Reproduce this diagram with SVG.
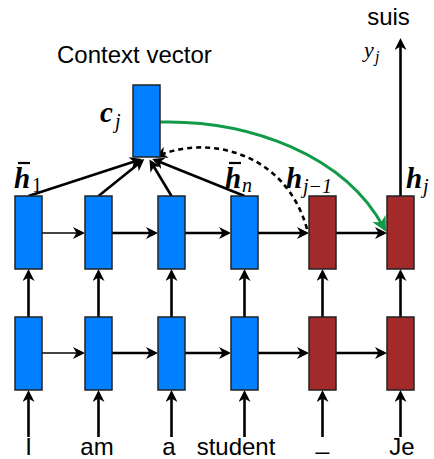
<svg xmlns="http://www.w3.org/2000/svg" width="434" height="459" viewBox="0 0 434 459">
<defs>
<style>
.enc{fill:#0080FF;stroke:#222;stroke-width:1.5}
.dec{fill:#A32A2B;stroke:#222;stroke-width:1.5}
.ar{stroke:#000;stroke-width:2.6;fill:none;marker-end:url(#ah)}
.sans{font-family:"Liberation Sans",Arial,sans-serif;font-size:24px;fill:#000}
.mb{font-family:"Liberation Serif","DejaVu Serif",serif;font-style:italic;font-weight:bold;font-size:29px;fill:#000}
.mi{font-family:"Liberation Serif","DejaVu Serif",serif;font-style:italic;font-size:20px;fill:#000}
.mr{font-family:"Liberation Serif","DejaVu Serif",serif;font-size:20px;fill:#000}
</style>
<marker id="ah" viewBox="0 0 12 12" refX="9" refY="6" markerWidth="12" markerHeight="12" markerUnits="userSpaceOnUse" orient="auto">
<path d="M0,0 L12,6 L0,12 L3.5,6 z" fill="#000"/>
</marker>
<marker id="ahg" viewBox="0 0 14 14" refX="10" refY="7" markerWidth="15" markerHeight="15" markerUnits="userSpaceOnUse" orient="auto">
<path d="M0,0 L14,7 L0,14 L4,7 z" fill="#119A48"/>
</marker>
</defs>
<rect width="434" height="459" fill="#fff"/>

<g id="connectors">
<line class="ar" x1="28.5" y1="437" x2="28.5" y2="393"/>
<line class="ar" x1="98.5" y1="437" x2="98.5" y2="393"/>
<line class="ar" x1="171.5" y1="437" x2="171.5" y2="393"/>
<line class="ar" x1="244.5" y1="437" x2="244.5" y2="393"/>
<line class="ar" x1="322.5" y1="437" x2="322.5" y2="393"/>
<line class="ar" x1="400.5" y1="437" x2="400.5" y2="393"/>
<line class="ar" x1="28.5" y1="317" x2="28.5" y2="272"/>
<line class="ar" x1="98.5" y1="317" x2="98.5" y2="272"/>
<line class="ar" x1="171.5" y1="317" x2="171.5" y2="272"/>
<line class="ar" x1="244.5" y1="317" x2="244.5" y2="272"/>
<line class="ar" x1="322.5" y1="317" x2="322.5" y2="272"/>
<line class="ar" x1="400.5" y1="317" x2="400.5" y2="272"/>
<line class="ar" x1="42" y1="353" x2="82" y2="353" style="stroke:#444;stroke-width:2"/>
<line class="ar" x1="112" y1="353" x2="155" y2="353"/>
<line class="ar" x1="185" y1="353" x2="228" y2="353"/>
<line class="ar" x1="258" y1="353" x2="306" y2="353"/>
<line class="ar" x1="336" y1="353" x2="384" y2="353"/>
<line class="ar" x1="42" y1="233" x2="82" y2="233" style="stroke:#444;stroke-width:2"/>
<line class="ar" x1="112" y1="233" x2="155" y2="233"/>
<line class="ar" x1="185" y1="233" x2="228" y2="233"/>
<line class="ar" x1="258" y1="233" x2="306" y2="233"/>
<line class="ar" x1="336" y1="233" x2="384" y2="233"/>
<line class="ar" x1="28.5" y1="196" x2="139" y2="160"/>
<line class="ar" x1="98.5" y1="196" x2="142" y2="161"/>
<line class="ar" x1="171.5" y1="196" x2="151" y2="162"/>
<line class="ar" x1="244.5" y1="196" x2="155" y2="160"/>
<path class="ar" d="M307,229 C285,150 205,135 158,156" stroke-dasharray="5,4"/>
<line class="ar" x1="400.5" y1="196" x2="400.5" y2="41"/>
<path d="M160,122 C250,120 345,155 384,228" fill="none" stroke="#119A48" stroke-width="3" marker-end="url(#ahg)"/>
</g>

<g id="context">
<rect class="enc" x="133" y="85" width="27" height="72"/>
<text class="sans" x="57" y="63">Context vector</text>
<text class="mb" x="100" y="122">c</text><text class="mi" x="115" y="128">j</text>
</g>

<g id="enc-top-1"><rect class="enc" x="15" y="196" width="27" height="73"/></g>
<g id="enc-top-2"><rect class="enc" x="85" y="196" width="27" height="73"/></g>
<g id="enc-top-3"><rect class="enc" x="158" y="196" width="27" height="73"/></g>
<g id="enc-top-4"><rect class="enc" x="231" y="196" width="27" height="73"/></g>
<g id="dec-top-1"><rect class="dec" x="309" y="196" width="27" height="73"/></g>
<g id="dec-top-2"><rect class="dec" x="387" y="196" width="27" height="73"/></g>

<g id="enc-bot-1"><rect class="enc" x="15" y="317" width="27" height="73"/></g>
<g id="enc-bot-2"><rect class="enc" x="85" y="317" width="27" height="73"/></g>
<g id="enc-bot-3"><rect class="enc" x="158" y="317" width="27" height="73"/></g>
<g id="enc-bot-4"><rect class="enc" x="231" y="317" width="27" height="73"/></g>
<g id="dec-bot-1"><rect class="dec" x="309" y="317" width="27" height="73"/></g>
<g id="dec-bot-2"><rect class="dec" x="387" y="317" width="27" height="73"/></g>

<g id="state-labels">
<text class="mb" x="14" y="188">h</text><line x1="18" y1="163" x2="30" y2="163" stroke="#000" stroke-width="2.2"/><text class="mr" x="32" y="192">1</text>
<text class="mb" x="225" y="188">h</text><line x1="229" y1="163" x2="241" y2="163" stroke="#000" stroke-width="2.2"/><text class="mi" x="242" y="192">n</text>
<text class="mb" x="286" y="188">h</text><text class="mi" x="303" y="193">j−1</text>
<text class="mb" x="406" y="188">h</text><text class="mi" x="423" y="193">j</text>
</g>

<g id="output">
<text class="sans" x="388.5" y="25" text-anchor="middle">suis</text>
<text x="364" y="57" font-family="Liberation Serif, serif" font-style="italic" font-size="22">y</text>
<text x="375" y="62" font-family="Liberation Serif, serif" font-style="italic" font-size="16">j</text>
</g>

<g id="inputs">
<text class="sans" x="28.5" y="455" text-anchor="middle">I</text>
<text class="sans" x="97" y="455" text-anchor="middle">am</text>
<text class="sans" x="169" y="455" text-anchor="middle">a</text>
<text class="sans" x="236" y="455" text-anchor="middle">student</text>
<text class="sans" x="322.5" y="449" text-anchor="middle">_</text>
<text class="sans" x="402" y="455" text-anchor="middle">Je</text>
</g>
</svg>
